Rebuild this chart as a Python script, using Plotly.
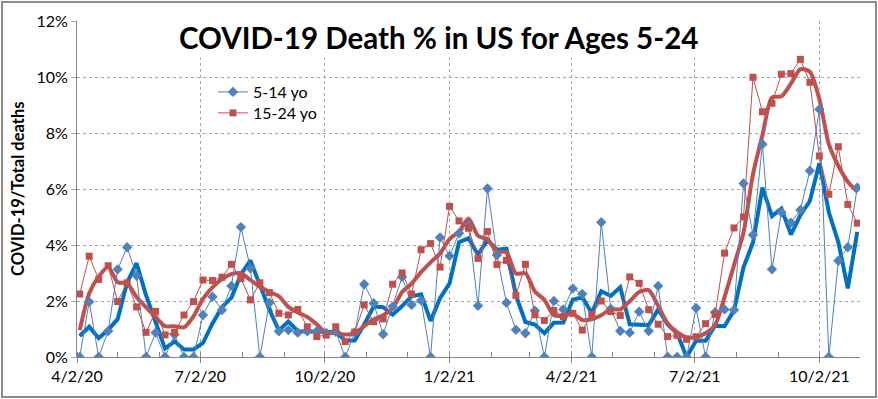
import pandas as pd
import plotly.graph_objects as go

# weekly dates (week ending) 4/4/20 .. 10/30/21
weeks = pd.date_range("2020-04-04", periods=83, freq="7D")

age_5_14 = [0, 1.97, 0, 0.93, 3.13, 3.92, 2.9, 0, 0.87, 0, 0.8, 0, 0, 1.5, 2.15, 1.68, 2.54, 4.64, 3.17, 0,
            1.94, 0.92, 0.96, 0.87, 0.92, 0.92, 0.86, 0.9, 0, 0.87, 2.6, 1.92, 0.81, 1.8, 2.86, 1.86, 2.02, 0,
            4.27, 3.61, 4.42, 4.7, 1.83, 6.02, 3.64, 1.94, 0.97, 0.85, 1.65, 0, 2.0, 1.7, 2.45, 2.25, 0, 4.81,
            1.72, 0.93, 0.87, 1.62, 0.93, 2.54, 0, 0, 0, 1.75, 0, 1.6, 1.7, 1.68, 6.2, 4.36, 7.6, 3.13, 5.17,
            4.8, 5.25, 6.65, 8.85, 0, 3.44, 3.92, 6.05]

age_15_24 = [2.25, 3.6, 2.77, 3.26, 1.98, 2.65, 1.79, 0.88, 1.63, 0.79, 0.88, 1.5, 1.98, 2.75, 2.73, 2.85, 3.31,
             2.8, 2.04, 2.65, 2.3, 1.56, 1.5, 1.7, 1.08, 0.73, 0.78, 1.08, 0.55, 0.89, 1.86, 1.26, 1.36, 2.6, 3.0,
             2.25, 3.83, 4.05, 3.21, 5.38, 4.86, 4.6, 3.52, 4.48, 3.3, 3.45, 2.2, 3.31, 1.51, 1.3, 1.66, 1.44,
             1.56, 0.96, 1.52, 2.0, 1.62, 1.48, 2.86, 2.63, 1.69, 1.17, 0.73, 0.77, 0.63, 0.72, 1.19, 1.52, 3.71,
             4.61, 5.0, 9.99, 8.76, 9.06, 10.1, 10.12, 10.63, 9.81, 7.18, 5.81, 7.51, 5.45, 4.78]

# thick trend lines
trend_5_14 = [0.75, 1.08, 0.67, 0.97, 1.35, 2.66, 3.35, 2.2, 1.25, 0.3, 0.56, 0.27, 0.27, 0.5, 1.2, 1.78, 2.12,
              2.95, 3.45, 2.6, 1.7, 0.95, 1.27, 0.92, 0.92, 0.9, 0.9, 0.89, 0.59, 0.59, 1.16, 1.8, 1.78, 1.51,
              1.82, 2.17, 2.24, 1.29, 2.1, 2.63, 4.1, 4.24, 3.65, 4.18, 3.83, 3.87, 2.2, 1.25, 1.16, 0.85, 1.22,
              1.23, 2.05, 2.13, 1.57, 2.35, 2.18, 2.49, 1.17, 1.14, 1.14, 1.7, 1.16, 0.85, 0, 0.58, 0.58, 1.12,
              1.1, 1.67, 3.2, 4.09, 6.05, 5.03, 5.3, 4.37, 5.07, 5.57, 6.92, 5.17, 4.1, 2.45, 4.47]

trend_15_24 = [0.96, 2.27, 2.87, 3.21, 2.67, 2.63, 2.14, 1.77, 1.43, 1.1, 1.1, 1.06, 1.45, 2.08, 2.49, 2.78, 2.96,
               2.99, 2.75, 2.5, 2.33, 2.17, 1.79, 1.59, 1.43, 1.17, 0.86, 0.86, 0.8, 0.84, 1.1, 1.34, 1.49, 1.74,
               2.32, 2.62, 3.03, 3.38, 3.7, 4.21, 4.48, 4.95, 4.33, 4.2, 3.77, 3.74, 2.98, 2.99, 2.34, 2.04, 1.49,
               1.47, 1.55, 1.32, 1.35, 1.49, 1.71, 1.7, 1.99, 2.32, 2.39, 1.83, 1.2, 0.89, 0.71, 0.71, 0.85, 1.14,
               2.14, 3.28, 4.44, 6.53, 7.92, 9.27, 9.31, 9.76, 10.28, 10.19, 9.21, 7.6, 6.83, 6.26, 5.91]

y_ticks = [0, 2, 4, 6, 8, 10, 12]

FONT = "Lato"
BLUE = "#4F81BD"
RED = "#C0504D"
BLUE_T = "#0070C0"
RED_T = "#C0504D"

fig = go.Figure()
fig.add_trace(go.Scatter(x=weeks, y=trend_5_14, mode="lines", showlegend=False,
                         line=dict(color=BLUE_T, width=4), hoverinfo="skip"))
fig.add_trace(go.Scatter(x=weeks, y=trend_15_24, mode="lines", showlegend=False,
                         line=dict(color=RED_T, width=4, shape="spline", smoothing=0.7), hoverinfo="skip"))
fig.add_trace(go.Scatter(x=weeks, y=age_5_14, mode="lines+markers", name="5-14 yo", legend="legend",
                         line=dict(color=BLUE, width=1),
                         marker=dict(symbol="diamond", size=8, color=BLUE)))
fig.add_trace(go.Scatter(x=weeks, y=age_15_24, mode="lines+markers", name="15-24 yo", legend="legend2",
                         line=dict(color=RED, width=1),
                         marker=dict(symbol="square", size=7, color=RED)))

L, R, T, B = 77, 18, 21, 42
W, H = 878, 399
pw, ph = W - L - R, H - T - B

leg_common = dict(xanchor="left", yanchor="middle", bgcolor="rgba(255,255,255,0)",
                  font=dict(family=FONT, size=16, color="black"), itemwidth=30)

fig.update_layout(
    width=W, height=H, autosize=False,
    margin=dict(l=L, r=R, t=T, b=B, pad=0),
    paper_bgcolor="white", plot_bgcolor="white",
    font=dict(family=FONT, size=16, color="black"),
    showlegend=True,
    legend=dict(x=(213 - L) / pw, y=1 - (92 - T) / ph, **leg_common),
    legend2=dict(x=(213 - L) / pw, y=1 - (113 - T) / ph, **leg_common),
)

fig.update_xaxes(
    type="date", range=["2020-04-02", "2021-11-01"],
    tick0="2020-04-02", dtick="M3", tickformat="%-m/%-d/%y",
    ticks="outside", ticklen=5, tickcolor="#868686",
    showline=True, linecolor="#868686", linewidth=1,
    showgrid=True, gridcolor="#A6A6A6", griddash="dot", gridwidth=1,
    zeroline=False,
    minor=dict(tick0="2020-04-02", dtick="M1", ticks="inside", ticklen=5, tickcolor="#868686", showgrid=False),
    tickfont=dict(family=FONT, size=16, color="black"),
)
fig.update_yaxes(
    range=[0, 12], tickvals=y_ticks, ticktext=[f"{v}%" for v in y_ticks],
    ticks="outside", ticklen=5, tickcolor="#A6A6A6",
    showline=True, linecolor="#868686", linewidth=1,
    showgrid=True, gridcolor="#A6A6A6", griddash="dot", gridwidth=1,
    zeroline=False,
    tickfont=dict(family=FONT, size=16, color="black"),
)

# chart title with white background
fig.add_annotation(
    text="<b>COVID-19 Death % in US for Ages 5-24</b>",
    xref="paper", yref="paper", x=(438 - L) / pw, y=1 - (37 - T) / ph,
    xanchor="center", yanchor="middle", showarrow=False,
    font=dict(family=FONT, size=29.5, color="black"), bgcolor="white", borderpad=2,
)
# y-axis title
fig.add_annotation(
    text="<b>COVID-19/Total deaths</b>",
    xref="paper", yref="paper", x=(18 - L) / pw, y=0.5,
    xanchor="center", yanchor="middle", showarrow=False, textangle=-90,
    font=dict(family=FONT, size=16.5, color="black"),
)
# chart border
fig.add_shape(type="rect", xref="paper", yref="paper",
              x0=(2 - L) / pw, x1=(876 - L) / pw, y0=-(397 - T - ph) / ph, y1=1 + (T - 2) / ph,
              line=dict(color="#8C8C8C", width=2), fillcolor="rgba(0,0,0,0)", layer="below")

fig.write_html("out.html", config={"displayModeBar": False},
               post_script="document.body.style.margin='0px';document.body.style.overflow='hidden';")
